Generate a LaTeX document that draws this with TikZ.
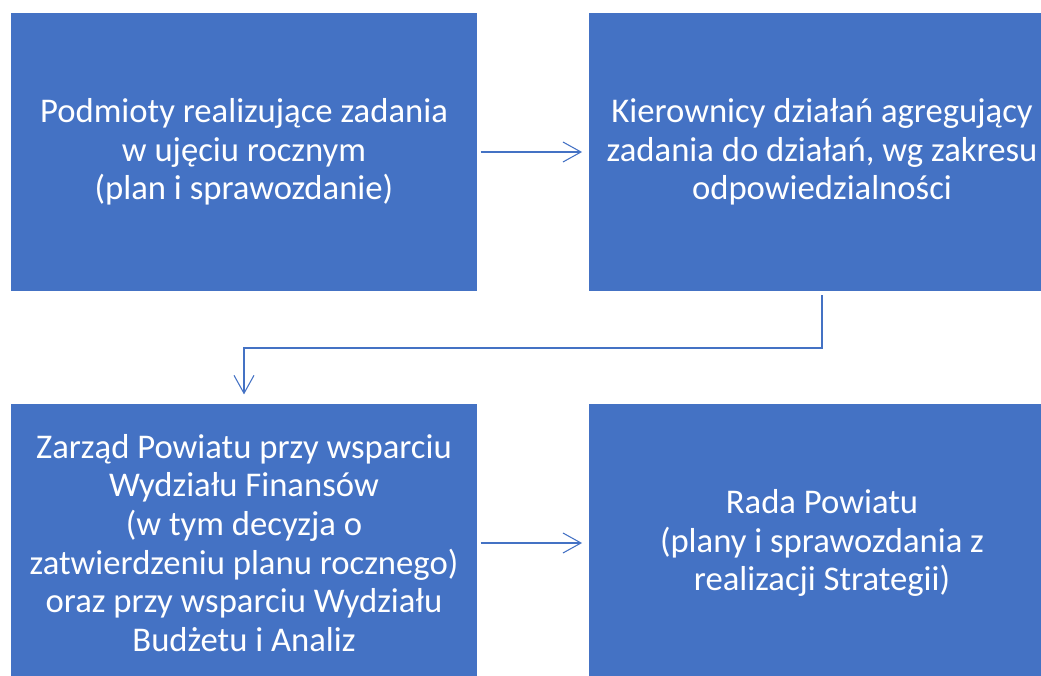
\documentclass[tikz,border=0pt]{standalone}
\usepackage{fontspec}
\setmainfont{Carlito}
\usetikzlibrary{arrows.meta}
\definecolor{boxblue}{HTML}{4472C4}
\tikzset{
  box/.style={fill=boxblue, draw=none, minimum width=349.5pt, minimum height=208.5pt,
    text=white, align=center, font=\fontsize{26}{29}\selectfont, inner sep=0pt},
  conn/.style={draw=boxblue, line width=0.8pt,
    -{Straight Barb[length=13.5pt,width=15pt,line width=0.8pt]}}
}
\begin{document}
\begin{tikzpicture}[x=0.75pt,y=-0.75pt]
\useasboundingbox (0,0) rectangle (1041,675);
\clip (0,0) rectangle (1041,675);
\node[box] (b1) at (244,152) {Podmioty realizujące zadania\\w ujęciu rocznym\\(plan i sprawozdanie)};
\node[box] (b2) at (822,152) {Kierownicy działań agregujący\\zadania do działań, wg zakresu\\odpowiedzialności};
\node[box] (b3) at (244,543) {Zarząd Powiatu przy wsparciu\\Wydziału Finansów\\(w tym decyzja o\\zatwierdzeniu planu rocznego)\\oraz przy wsparciu Wydziału\\Budżetu i Analiz};
\node[box] (b4) at (822,543) {Rada Powiatu\\(plany i sprawozdania z\\realizacji Strategii)};
\coordinate (m) at (244,348);
\draw[conn, shorten <=2.5pt, shorten >=5pt] (b1.east) -- (b2.west);
\draw[conn, shorten <=2.5pt, shorten >=5pt] (b3.east) -- (b4.west);
\draw[conn, shorten <=3pt, shorten >=7pt] (b2.south) |- (m) -| (b3.north);
\end{tikzpicture}
\end{document}
